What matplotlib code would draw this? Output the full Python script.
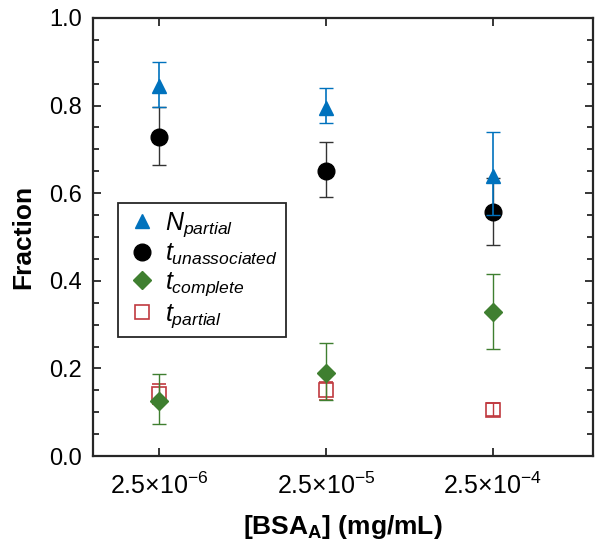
import numpy as np
import matplotlib
matplotlib.use("Agg")
import matplotlib.pyplot as plt
from matplotlib.ticker import MultipleLocator, NullLocator, FormatStrFormatter

plt.rcParams["font.family"] = ["Liberation Sans", "DejaVu Sans"]
plt.rcParams["mathtext.fontset"] = "custom"
plt.rcParams["mathtext.rm"] = "Liberation Sans"
plt.rcParams["mathtext.it"] = "Liberation Sans:italic"
plt.rcParams["mathtext.bf"] = "Liberation Sans:bold"

# BSA concentrations (mg/mL)
conc = [2.5e-6, 2.5e-5, 2.5e-4]
conc_labels = ["2.5×10$^{-6}$", "2.5×10$^{-5}$", "2.5×10$^{-4}$"]

# fractions with (lower, upper) error
n_partial = [0.845, 0.795, 0.640]
n_partial_lo = [0.048, 0.035, 0.090]
n_partial_hi = [0.054, 0.045, 0.100]

t_unassoc = [0.729, 0.651, 0.558]
t_unassoc_lo = [0.065, 0.060, 0.076]
t_unassoc_hi = [0.068, 0.066, 0.076]

t_complete = [0.126, 0.190, 0.328]
t_complete_lo = [0.054, 0.062, 0.083]
t_complete_hi = [0.061, 0.067, 0.088]

t_partial = [0.141, 0.151, 0.105]
t_partial_lo = [0.023, 0.022, 0.014]
t_partial_hi = [0.023, 0.018, 0.015]

fig = plt.figure(figsize=(6.01, 5.52), dpi=100)
ax = fig.add_axes([0.1547, 0.1739, 0.832, 0.7935])

blue = "#0072BD"
green = "#3f7f30"
red = "#c0393f"

h4 = ax.errorbar(conc, t_partial, yerr=[t_partial_lo, t_partial_hi], fmt="s",
                 ms=10, mfc="none", mec=red, mew=1.2, color=red, ecolor=red,
                 elinewidth=1, capsize=5, zorder=3)
h3 = ax.errorbar(conc, t_complete, yerr=[t_complete_lo, t_complete_hi], fmt="D",
                 ms=9, color=green, ecolor=green, elinewidth=1, capsize=5, zorder=4)
h2 = ax.errorbar(conc, t_unassoc, yerr=[t_unassoc_lo, t_unassoc_hi], fmt="o",
                 ms=12, color="black", ecolor="#333333", elinewidth=1, capsize=5, zorder=5)
h1 = ax.errorbar(conc, n_partial, yerr=[n_partial_lo, n_partial_hi], fmt="^",
                 ms=10, color=blue, ecolor=blue, elinewidth=1.2, capsize=5, zorder=6)

ax.set_xscale("log")
ax.set_xlim(1e-6, 1e-3)
ax.set_xticks(conc)
ax.set_xticklabels(conc_labels)
ax.xaxis.set_minor_locator(NullLocator())
ax.set_ylim(0, 1)
ax.yaxis.set_major_locator(MultipleLocator(0.2))
ax.yaxis.set_minor_locator(MultipleLocator(0.05))
ax.yaxis.set_major_formatter(FormatStrFormatter("%.1f"))

ax.tick_params(which="both", direction="in", top=True, right=True, labelsize=17,
               color="#262626", width=1.3)
ax.tick_params(which="major", length=6)
ax.tick_params(axis="x", pad=12, labelsize=18)
ax.tick_params(axis="y", pad=8)
ax.tick_params(which="minor", length=4)
for s in ax.spines.values():
    s.set_linewidth(1.6)
    s.set_color("#262626")

ax.set_ylabel("Fraction", fontsize=19, fontweight="bold", labelpad=10)
ax.set_xlabel(r"[BSA$_\mathbf{A}$] (mg/mL)", fontsize=19, fontweight="bold", labelpad=10)

leg = ax.legend([h1[0], h2[0], h3[0], h4[0]],
                [r"$N_{partial}$", r"$t_{unassociated}$", r"$t_{complete}$", r"$t_{partial}$"],
                loc="upper left", bbox_to_anchor=(0.05, 0.578), borderaxespad=0,
                fontsize=18, frameon=True, fancybox=False, framealpha=1,
                edgecolor="#262626", handletextpad=0.3, handlelength=1.3,
                labelspacing=0.12, borderpad=0.3)
leg.get_frame().set_linewidth(1.3)

fig.savefig("out.png", dpi=100)
